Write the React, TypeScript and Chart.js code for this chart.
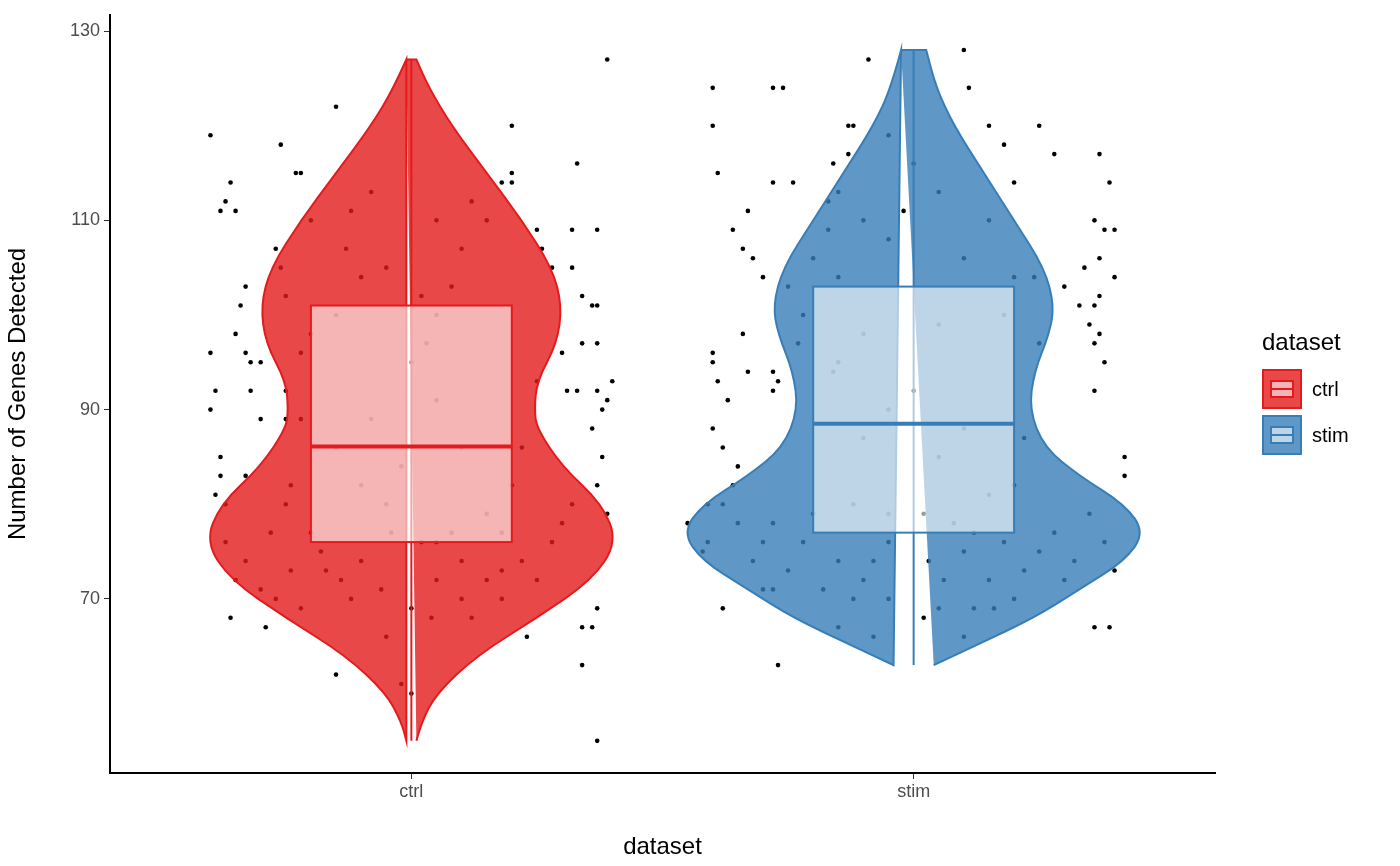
import { useEffect, useRef } from 'react';
import Chart from 'chart.js/auto';

const categories = ['ctrl', 'stim'];
const yTicks = [70, 90, 110, 130];

// violin outline: gene levels and half-widths (in category units)
const ctrlLevels = [55, 57, 60, 64, 68, 72, 76, 80, 84, 88, 90, 93, 97, 101, 105, 110, 115, 120, 124, 127];
const ctrlHalf = [0.01, 0.02, 0.05, 0.13, 0.25, 0.36, 0.41, 0.38, 0.3, 0.25, 0.245, 0.25, 0.29, 0.3, 0.28, 0.22, 0.15, 0.08, 0.035, 0.01];
const stimLevels = [63, 63.5, 65, 68, 71, 74, 77, 80, 83, 86, 90, 94, 98, 101, 105, 110, 115, 120, 124, 128];
const stimHalf = [0.04, 0.06, 0.12, 0.24, 0.33, 0.42, 0.46, 0.42, 0.33, 0.26, 0.23, 0.24, 0.27, 0.28, 0.26, 0.2, 0.14, 0.08, 0.045, 0.025];

// box stats: [q1, median, q3]
const ctrlBox = [76, 86.1, 101];
const stimBox = [77, 88.5, 103];

// jittered cells: x offset from category, genes detected
const ctrlJitter = [-0.40,-0.40,-0.39,-0.38,-0.37,-0.36,-0.35,-0.4,-0.38,-0.39,-0.38,-0.37,-0.36,-0.33,-0.34,-0.35,-0.33,-0.32,-0.30,-0.33,-0.29,-0.32,-0.30,-0.27,-0.26,-0.25,-0.25,-0.22,-0.26,-0.23,-0.22,-0.15,-0.15,0.2,0.33,0.32,0.37,0.34,0.37,0.36,0.32,0.28,0.26,0.25,0.3,0.33,0.31,0.37,0.39,0.38,0.36,0.34,0.37,0.4,0.38,0.37,0.39,0.36,0.34,0.34,0.37,0.37,0.23,0.39,0.2,0.18,
  -0.37,-0.35,-0.33,-0.3,-0.28,-0.27,-0.25,-0.24,-0.24,-0.22,-0.2,-0.18,-0.17,-0.14,-0.12,-0.1,-0.1,-0.13,-0.15,-0.2,-0.22,-0.25,-0.2,-0.12,-0.08,-0.05,0.03,0.05,0.08,0.1,0.12,0.15,0.2,0.05,0.02,-0.05,-0.1,-0.08,-0.02,0,0.05,0.1,0.15,0.18,-0.15,-0.04,0.02,0.05,0.08,0.1,-0.06,0,0.05,0.1,0.15,0.18,0.22,0.25,0.28,0.3,0.32,0.2,0.22,0.25,-0.05,0.04,0.12,0.18,-0.02,0];
const ctrlGenes = [119,96,92,111,112,114,111,90,85,81,83,80,68,103,101,98,96,92,89,83,67,95,95,107,105,92,89,89,118,115,115,62,122,120,116,109,109,102,101,101,105,105,107,109,96,92,92,92,91,90,88,97,97,93,85,82,79,67,67,63,69,55,66,127,115,114,
  76,72,74,71,77,70,80,82,73,69,77,75,73,72,70,74,104,107,100,98,96,102,110,111,113,105,97,100,103,107,112,110,114,110,102,80,82,89,84,95,91,86,79,77,86,77,76,76,77,74,71,69,72,70,72,70,74,72,76,78,80,82,86,93,66,68,68,73,61,60];
const stimJitter = [-0.4,-0.4,-0.39,-0.4,-0.4,-0.39,-0.4,-0.38,-0.37,-0.36,-0.35,-0.41,-0.41,-0.38,-0.3,-0.28,-0.33,-0.32,-0.3,-0.34,-0.36,-0.28,-0.26,-0.28,-0.24,-0.17,-0.15,-0.13,-0.12,-0.13,-0.16,-0.17,-0.16,-0.34,-0.33,-0.23,-0.09,-0.05,-0.27,-0.28,-0.28,0.11,0.15,0.18,0.2,0.25,0.28,0.37,0.3,0.33,0.35,0.36,0.34,0.37,0.36,0.38,0.4,0.39,0.4,0.37,0.36,0.36,0.24,0.38,0.37,0.42,0.42,0.39,0.36,-0.27,0.1,0.16,0.1,0.3,0.02,
  -0.45,-0.42,-0.38,-0.35,-0.32,-0.3,-0.28,-0.25,-0.22,-0.2,-0.18,-0.15,-0.12,-0.1,-0.08,-0.05,-0.22,-0.25,-0.2,-0.15,-0.1,-0.05,-0.1,0,0.05,-0.02,0.1,0.15,0.2,0.18,0.25,0.05,-0.15,-0.1,-0.05,0,0.05,0.1,0.15,-0.12,-0.05,0.02,0.08,0.12,0.2,0.22,0.03,0.06,0.1,0.15,0.18,0.22,0.25,0.28,0.32,0.35,0.38,0.4,-0.05,0.05,0.12,-0.15,-0.08,0.2];
const stimGenes = [124,120,115,96,95,93,88,86,91,82,84,80,76,69,71,71,111,106,104,107,109,124,124,114,114,112,113,117,120,120,116,109,94,98,94,97,127,119,93,92,94,124,120,118,114,120,117,117,103,101,99,101,105,106,110,109,109,114,104,102,97,92,104,95,98,83,85,67,67,63,66,69,128,72,68,
  78,75,80,78,74,76,78,73,76,79,71,74,70,72,74,76,100,103,106,104,98,108,110,116,113,111,106,110,104,100,97,99,95,87,90,92,85,88,81,80,79,79,78,77,82,87,74,72,75,72,76,73,75,77,74,79,76,73,70,69,69,67,66,70];

const FONT = '"Liberation Sans", Arial, sans-serif';
const groups = [
  { x: 1, levels: ctrlLevels, half: ctrlHalf, box: ctrlBox, color: '#E41A1C', fill: 'rgba(228,26,28,0.8)' },
  { x: 2, levels: stimLevels, half: stimHalf, box: stimBox, color: '#377EB8', fill: 'rgba(55,126,184,0.8)' },
];

function smoothPath(ctx: CanvasRenderingContext2D, pts: number[][]) {
  ctx.moveTo(pts[0][0], pts[0][1]);
  for (let i = 1; i < pts.length - 1; i++) {
    const mx = (pts[i][0] + pts[i + 1][0]) / 2;
    const my = (pts[i][1] + pts[i + 1][1]) / 2;
    ctx.quadraticCurveTo(pts[i][0], pts[i][1], mx, my);
  }
  const last = pts[pts.length - 1];
  ctx.lineTo(last[0], last[1]);
}

const violinPlugin = {
  id: 'violins',
  afterDatasetsDraw(chart: any) {
    const { ctx, scales } = chart;
    const xs = scales.x, ys = scales.y;
    groups.forEach((g) => {
      const right = g.levels.map((v, i) => [xs.getPixelForValue(g.x + g.half[i]), ys.getPixelForValue(v)]);
      const left = g.levels.map((v, i) => [xs.getPixelForValue(g.x - g.half[i]), ys.getPixelForValue(v)]).reverse();
      ctx.save();
      ctx.beginPath();
      smoothPath(ctx, right);
      const l0 = left[0];
      ctx.lineTo(l0[0], l0[1]);
      smoothPath(ctx, left);
      ctx.closePath();
      ctx.fillStyle = g.fill;
      ctx.fill();
      ctx.strokeStyle = g.color;
      ctx.lineWidth = 2;
      ctx.stroke();
      // whisker line
      const cx = xs.getPixelForValue(g.x);
      ctx.beginPath();
      ctx.moveTo(cx, ys.getPixelForValue(g.levels[0]));
      ctx.lineTo(cx, ys.getPixelForValue(g.levels[g.levels.length - 1]));
      ctx.stroke();
      // box
      const bl = xs.getPixelForValue(g.x - 0.2), br = xs.getPixelForValue(g.x + 0.2);
      const q1 = ys.getPixelForValue(g.box[0]), md = ys.getPixelForValue(g.box[1]), q3 = ys.getPixelForValue(g.box[2]);
      ctx.fillStyle = 'rgba(255,255,255,0.6)';
      ctx.fillRect(bl, q3, br - bl, q1 - q3);
      ctx.strokeRect(bl, q3, br - bl, q1 - q3);
      ctx.lineWidth = 4;
      ctx.beginPath();
      ctx.moveTo(bl, md);
      ctx.lineTo(br, md);
      ctx.stroke();
      ctx.restore();
    });
  },
};

function LegendKey({ color, fill, label }: { color: string; fill: string; label: string }) {
  return (
    <div style={{ display: 'flex', alignItems: 'center', height: 46 }}>
      <div style={{ width: 40, height: 40, background: fill, border: `2px solid ${color}`, boxSizing: 'border-box', position: 'relative' }}>
        <div style={{ position: 'absolute', left: 6, right: 6, top: 9, bottom: 9, background: 'rgba(255,255,255,0.6)', border: `2px solid ${color}` }} />
        <div style={{ position: 'absolute', left: 6, right: 6, top: 17, height: 2, background: color }} />
      </div>
      <span style={{ marginLeft: 10, fontSize: 20 }}>{label}</span>
    </div>
  );
}

export default function App() {
  const canvasRef = useRef<HTMLCanvasElement>(null);
  const chartRef = useRef<Chart | null>(null);

  useEffect(() => {
    if (!canvasRef.current) return;
    if (chartRef.current) chartRef.current.destroy();
    chartRef.current = new Chart(canvasRef.current, {
      type: 'scatter',
      data: {
        datasets: [
          { data: ctrlJitter.map((j, i) => ({ x: 1 + j, y: ctrlGenes[i] })), backgroundColor: '#000', borderWidth: 0, pointRadius: 2.3 },
          { data: stimJitter.map((j, i) => ({ x: 2 + j, y: stimGenes[i] })), backgroundColor: '#000', borderWidth: 0, pointRadius: 2.3 },
        ],
      },
      options: {
        animation: false,
        responsive: true,
        maintainAspectRatio: false,
        layout: { padding: { top: 15, right: 185 } },
        plugins: { legend: { display: false }, tooltip: { enabled: false } },
        scales: {
          x: {
            type: 'linear', min: 0.4, max: 2.6,
            afterBuildTicks: (s: any) => { s.ticks = [{ value: 1 }, { value: 2 }]; },
            afterFit: (s: any) => { s.height = 93; },
            ticks: { callback: (v: any) => categories[Number(v) - 1], color: '#4d4d4d', font: { family: FONT, size: 18 }, padding: 2 },
            grid: { drawOnChartArea: false, drawTicks: true, tickLength: 6, color: '#333' },
            border: { color: '#000', width: 2 },
            title: { display: true, text: 'dataset', color: '#000', font: { family: FONT, size: 24 }, padding: 4 },
          },
          y: {
            min: 51.6, max: 131.7,
            afterBuildTicks: (s: any) => { s.ticks = yTicks.map((v) => ({ value: v })); },
            afterFit: (s: any) => { s.width = 110; },
            ticks: { color: '#4d4d4d', font: { family: FONT, size: 18 }, padding: 4 },
            grid: { drawOnChartArea: false, drawTicks: true, tickLength: 6, color: '#333' },
            border: { color: '#000', width: 2 },
            title: { display: true, text: 'Number of Genes Detected', color: '#000', font: { family: FONT, size: 24 }, padding: 4 },
          },
        },
      },
      plugins: [violinPlugin],
    });
    return () => { chartRef.current?.destroy(); chartRef.current = null; };
  }, []);

  return (
    <div style={{ position: 'fixed', left: 0, top: 0, width: 1400, height: 866, background: '#fff', fontFamily: FONT }}>
      <canvas ref={canvasRef}></canvas>
      <div style={{ position: 'absolute', left: 1262, top: 328 }}>
        <div style={{ fontSize: 24, marginBottom: 10 }}>dataset</div>
        <LegendKey color="#E41A1C" fill="rgba(228,26,28,0.8)" label="ctrl" />
        <LegendKey color="#377EB8" fill="rgba(55,126,184,0.8)" label="stim" />
      </div>
    </div>
  );
}
